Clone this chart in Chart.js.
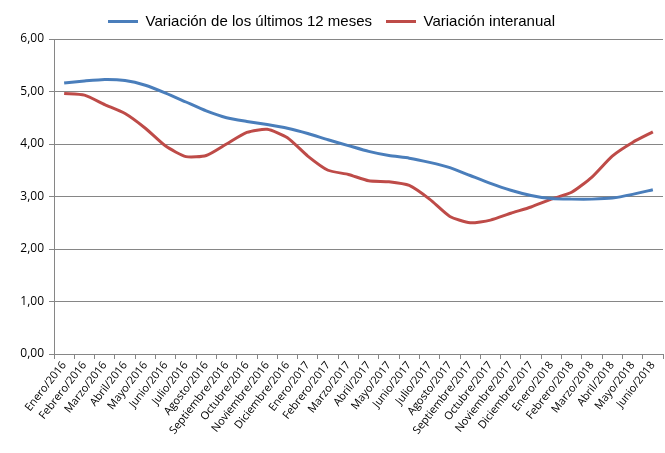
<!DOCTYPE html>
<html>
<head>
<meta charset="utf-8">
<script src="https://cdn.jsdelivr.net/npm/chart.js@4"></script>
<style>
  html, body { margin: 0; padding: 0; background: #fff; }
  #wrap { width: 665px; height: 453px; }
</style>
</head>
<body>
<div id="wrap"><canvas id="myChart" width="665" height="453"></canvas></div>
<script>
const canvas = document.getElementById('myChart');

// meses
const meses = ['Enero/2016', 'Febrero/2016', 'Marzo/2016', 'Abril/2016', 'Mayo/2016', 'Junio/2016',
  'Julio/2016', 'Agosto/2016', 'Septiembre/2016', 'Octubre/2016', 'Noviembre/2016', 'Diciembre/2016',
  'Enero/2017', 'Febrero/2017', 'Marzo/2017', 'Abril/2017', 'Mayo/2017', 'Junio/2017',
  'Julio/2017', 'Agosto/2017', 'Septiembre/2017', 'Octubre/2017', 'Noviembre/2017', 'Diciembre/2017',
  'Enero/2018', 'Febrero/2018', 'Marzo/2018', 'Abril/2018', 'Mayo/2018', 'Junio/2018'];

// Variación de los últimos 12 meses
const ultimos12 = [5.16, 5.20, 5.23, 5.21, 5.12, 4.97, 4.80, 4.63, 4.50, 4.43, 4.37, 4.30,
  4.20, 4.08, 3.97, 3.86, 3.78, 3.73, 3.65, 3.55, 3.40, 3.25, 3.12, 3.02,
  2.96, 2.95, 2.95, 2.97, 3.04, 3.13];

// Variación interanual
const interanual = [4.96, 4.93, 4.75, 4.58, 4.30, 3.96, 3.76, 3.78, 4.00, 4.22, 4.28, 4.12,
  3.77, 3.50, 3.42, 3.30, 3.28, 3.21, 2.95, 2.62, 2.50, 2.55, 2.68, 2.80,
  2.95, 3.08, 3.37, 3.77, 4.03, 4.23];

const yTicks = [0, 1, 2, 3, 4, 5, 6];

const fuente = "'Open Sans', 'Liberation Sans', sans-serif";

let myChart = new Chart(canvas, {
  type: 'line',
  data: {
    labels: meses,
    datasets: [
      {
        label: 'Variación de los últimos 12 meses',
        data: ultimos12,
        borderColor: '#4a7ebb',
        backgroundColor: '#4a7ebb',
        borderWidth: 3,
        pointRadius: 0,
        tension: 0.2
      },
      {
        label: 'Variación interanual',
        data: interanual,
        borderColor: '#be4b48',
        backgroundColor: '#be4b48',
        borderWidth: 3,
        pointRadius: 0,
        tension: 0.2
      }
    ]
  },
  options: {
    responsive: false,
    animation: false,
    layout: { padding: { left: 0, right: 2, top: 0, bottom: 0 } },
    scales: {
      y: {
        min: 0,
        max: 6,
        afterBuildTicks: (axis) => { axis.ticks = yTicks.map(v => ({ value: v })); },
        afterFit: (axis) => { axis.width = 54; },
        ticks: {
          color: '#000',
          font: { family: fuente, size: 12 },
          padding: 5,
          callback: (v) => v.toFixed(2).replace('.', ',')
        },
        grid: { color: '#868686', lineWidth: 1, tickLength: 5 },
        border: { color: '#868686' }
      },
      x: {
        offset: true,
        afterFit: (axis) => { axis.height = 99; },
        ticks: {
          color: '#000',
          font: { family: fuente, size: 11 },
          maxRotation: 52,
          minRotation: 52,
          autoSkip: false,
          padding: 0
        },
        grid: { display: true, drawOnChartArea: false, offset: true, color: '#868686', tickLength: 5 },
        border: { color: '#868686' }
      }
    },
    plugins: {
      legend: {
        position: 'top',
        labels: {
          color: '#000',
          font: { family: "'Liberation Sans Narrow', 'Liberation Sans', sans-serif", size: 15 },
          usePointStyle: true,
          pointStyle: 'line',
          pointStyleWidth: 30,
          boxHeight: 3,
          padding: 14
        }
      },
      tooltip: { enabled: false }
    }
  }
});
</script>
</body>
</html>
